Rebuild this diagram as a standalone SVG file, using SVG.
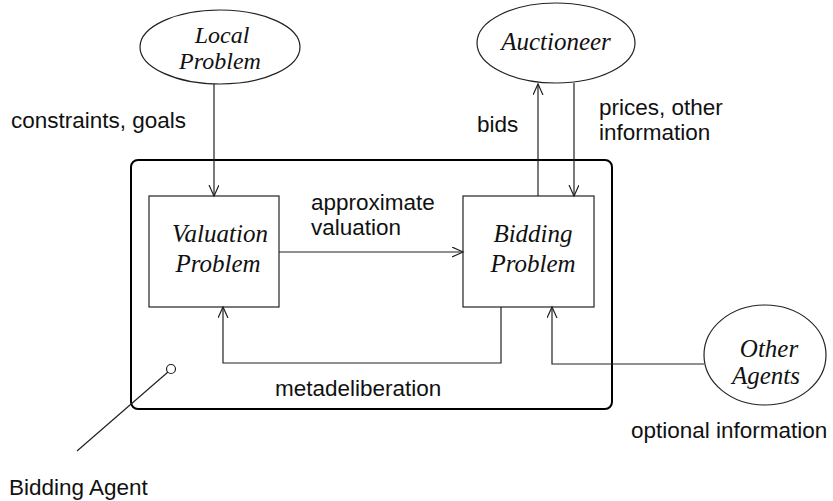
<svg xmlns="http://www.w3.org/2000/svg" width="833" height="501" viewBox="0 0 833 501">
<defs>
<style>
.lbl{font-family:"Liberation Sans",Arial,sans-serif;font-size:22.5px;fill:#111}
.nm{font-family:"Liberation Serif","Times New Roman",serif;font-style:italic;font-size:25px;fill:#111;text-anchor:middle}
.sm{font-size:24px}
.shape{fill:#fff;stroke:#222;stroke-width:1.2}
.conn{fill:none;stroke:#222;stroke-width:1.2}
</style>
<marker id="arr" markerUnits="userSpaceOnUse" markerWidth="14" markerHeight="12" refX="11" refY="5" orient="auto">
<path d="M0,0 L11,5 L0,10" fill="none" stroke="#222" stroke-width="1.2"/>
</marker>
</defs>
<rect width="833" height="501" fill="#fff"/>
<g id="bidding-agent">
<rect x="131" y="160" width="481" height="249" rx="7" fill="none" stroke="#000" stroke-width="2"/>
<circle cx="171" cy="369" r="4.5" fill="#fff" stroke="#222" stroke-width="1.2"/>
<line x1="168" y1="372" x2="77" y2="451" stroke="#222" stroke-width="1.2"/>
<text class="lbl" x="9" y="495">Bidding Agent</text>
</g>
<g id="local-problem">
<ellipse class="shape" cx="220" cy="47" rx="80" ry="37"/>
<text class="nm sm" x="222" y="43">Local</text>
<text class="nm sm" x="220" y="69">Problem</text>
</g>
<g id="auctioneer">
<ellipse class="shape" cx="556" cy="43" rx="79" ry="40"/>
<text class="nm" x="556" y="50">Auctioneer</text>
</g>
<g id="valuation-problem">
<rect class="shape" x="149" y="196" width="130" height="111"/>
<text class="nm" x="220" y="242">Valuation</text>
<text class="nm" x="218" y="272">Problem</text>
</g>
<g id="bidding-problem">
<rect class="shape" x="463" y="196" width="131" height="111"/>
<text class="nm" x="533" y="242">Bidding</text>
<text class="nm" x="533" y="272">Problem</text>
</g>
<g id="other-agents">
<ellipse class="shape" cx="765" cy="355" rx="61" ry="50"/>
<text class="nm" x="769" y="357">Other</text>
<text class="nm" x="766" y="384">Agents</text>
</g>
<g id="connectors">
<line class="conn" x1="214" y1="84" x2="214" y2="196" marker-end="url(#arr)"/>
<line class="conn" x1="538" y1="196" x2="538" y2="84" marker-end="url(#arr)"/>
<line class="conn" x1="574" y1="83" x2="574" y2="196" marker-end="url(#arr)"/>
<line class="conn" x1="279" y1="252" x2="463" y2="252" marker-end="url(#arr)"/>
<polyline class="conn" points="501,307 501,363 223,363 223,307" marker-end="url(#arr)"/>
<polyline class="conn" points="704,364 552,364 552,307" marker-end="url(#arr)"/>
</g>
<g id="labels">
<text class="lbl" x="11" y="128">constraints, goals</text>
<text class="lbl" x="477" y="132">bids</text>
<text class="lbl" x="599" y="115">prices, other</text>
<text class="lbl" x="599" y="140">information</text>
<text class="lbl" x="311" y="210">approximate</text>
<text class="lbl" x="311" y="235">valuation</text>
<text class="lbl" x="275" y="396">metadeliberation</text>
<text class="lbl" x="631" y="438">optional information</text>
</g>
</svg>
